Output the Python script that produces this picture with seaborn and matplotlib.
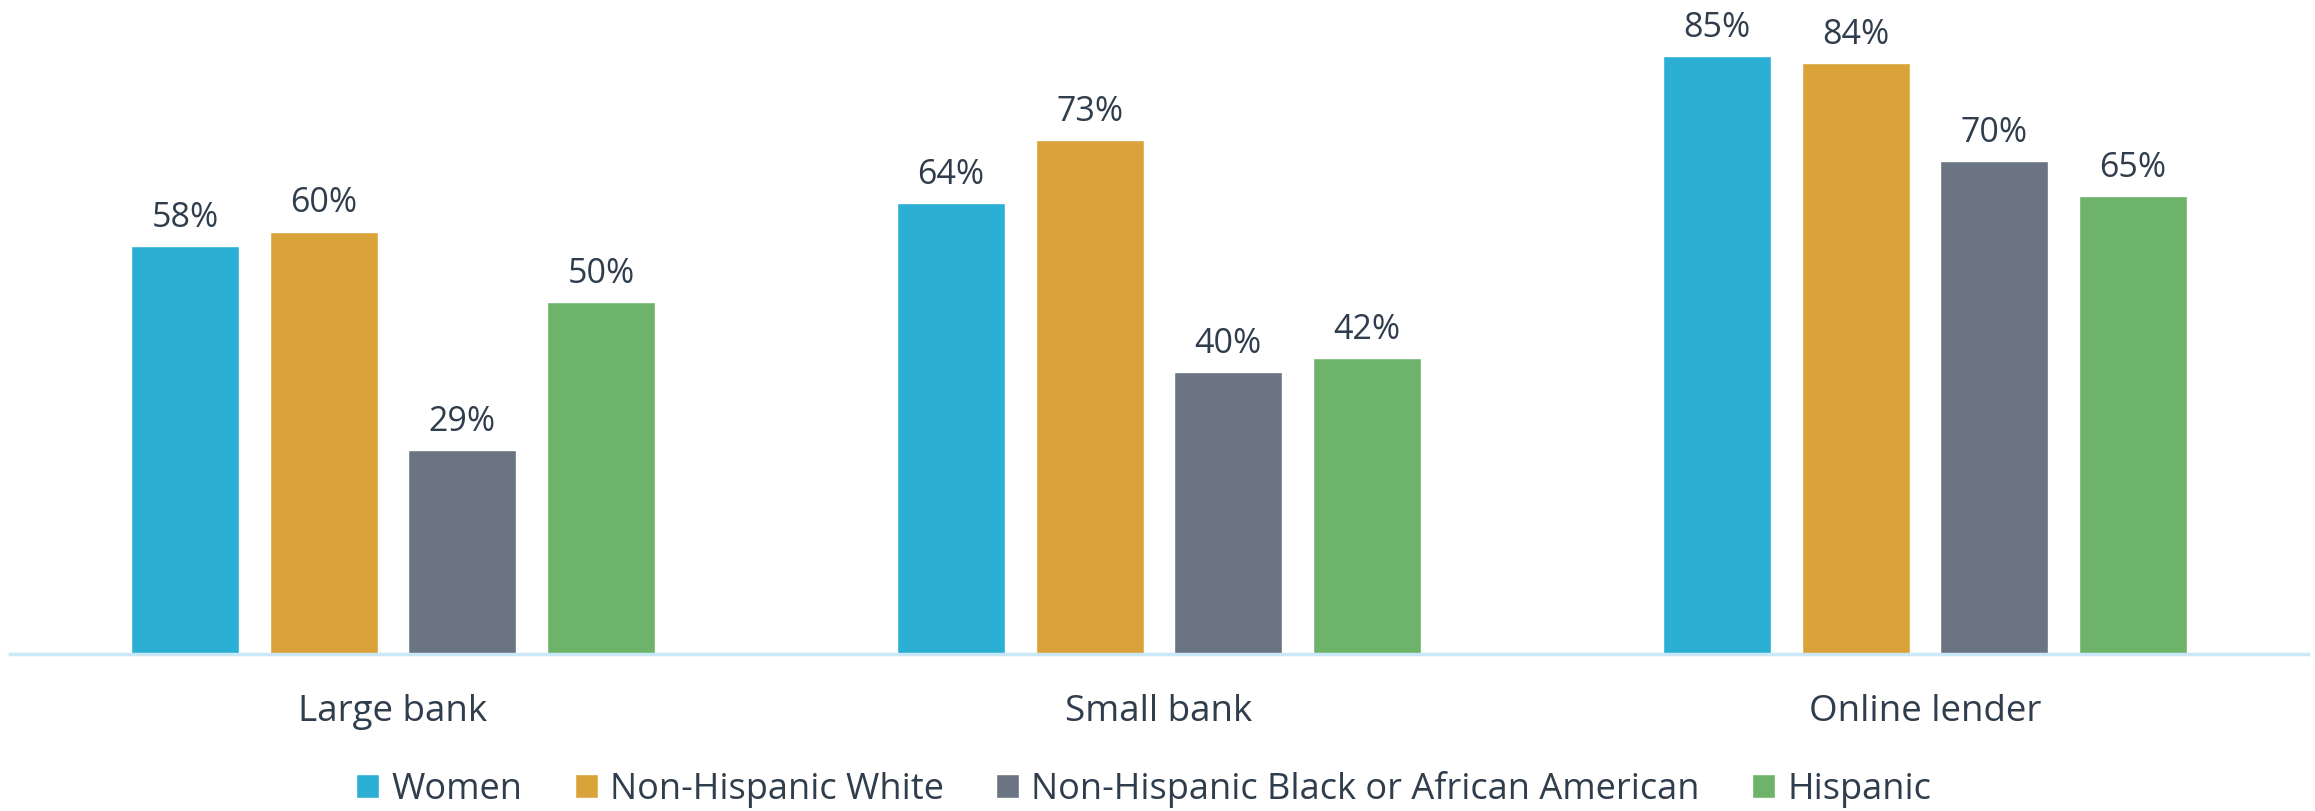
import pandas as pd
import seaborn as sns
import matplotlib.pyplot as plt

# data (percent)
lenders = ['Large bank', 'Small bank', 'Online lender']
groups = ['Women', 'Non-Hispanic White', 'Non-Hispanic Black or African American', 'Hispanic']
women = [58, 64, 85]
white = [60, 73, 84]
black = [29, 40, 70]
hispanic = [50, 42, 65]

colors = ['#2BAFD5', '#D9A33A', '#6B7483', '#6DB36A']
text_col = '#2F3D4C'

rows = []
for g, vals in zip(groups, [women, white, black, hispanic]):
    for l, v in zip(lenders, vals):
        rows.append({'lender': l, 'group': g, 'pct': v})
df = pd.DataFrame(rows)

sns.set_style('white')
plt.rcParams['font.family'] = ['Open Sans', 'DejaVu Sans']

fig = plt.figure(figsize=(23.15, 8.11), dpi=100)
ax = fig.add_axes([0.0043, 0.1936, 0.9927, 0.8064])

sns.barplot(data=df, x='lender', y='pct', hue='group', order=lenders, hue_order=groups,
            palette=colors, width=0.724, gap=0.22, saturation=1, errorbar=None, ax=ax)

for cont in ax.containers:
    ax.bar_label(cont, labels=[f'{int(v)}%' for v in cont.datavalues],
                 padding=8, fontsize=24.5, color=text_col)

ax.set_xlim(-0.5, 2.5)
ax.set_ylim(0, 92.9)
ax.set(xlabel='', ylabel='', yticks=[])
sns.despine(ax=ax, left=True)
ax.spines['bottom'].set_color('#CBE8F8')
ax.spines['bottom'].set_linewidth(2.5)
ax.tick_params(axis='x', length=0, pad=29, labelsize=26.5, labelcolor=text_col)

h, l = ax.get_legend_handles_labels()
ax.legend_.remove()
fig.legend(h, l, loc='center', bbox_to_anchor=(0.494, 0.027), ncol=4, frameon=False,
           fontsize=26, labelcolor=text_col, handlelength=0.64, handleheight=0.64,
           handletextpad=0.33, columnspacing=1.45)

fig.savefig('out.png', dpi=100)
